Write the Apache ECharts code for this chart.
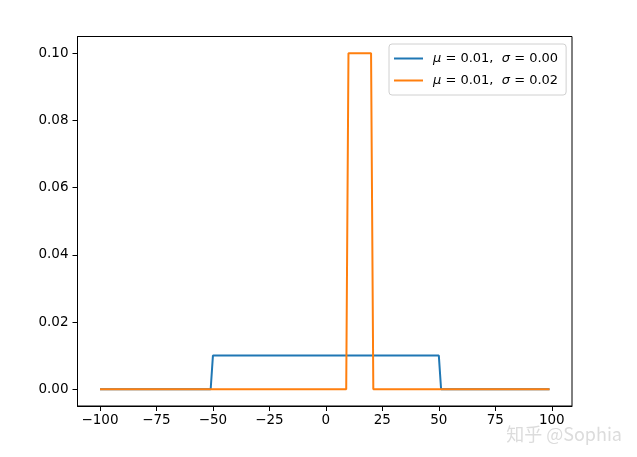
<!DOCTYPE html>
<html>
<head>
<meta charset="utf-8">
<script src="https://cdn.jsdelivr.net/npm/echarts@6/dist/echarts.min.js"></script>
<style>html,body{margin:0;padding:0;background:#fff;}#c{width:637px;height:457px;}</style>
</head>
<body>
<div id="c"></div>
<script>
// Vertices of each curve (piecewise linear)
const blueX = [-100, -51, -50, 50, 51, 99];
const blueY = [0, 0, 0.01, 0.01, 0, 0];
const orangeX = [-100, 9, 10, 20, 21, 99];
const orangeY = [0, 0, 0.1, 0.1, 0, 0];
const xTicks = [-100, -75, -50, -25, 0, 25, 50, 75, 100];
const yTicks = [0, 0.02, 0.04, 0.06, 0.08, 0.10];
const seriesNames = ['blue', 'orange'];
const legendLabels = ['{i|μ} = 0.01,  {i|σ} = 0.00', '{i|μ} = 0.01,  {i|σ} = 0.02'];

const font = 'DejaVu Sans';
const chart = echarts.init(document.getElementById('c'));
const pair = (xs, ys) => xs.map((x, i) => [x, ys[i]]);
chart.setOption({
  animation: false,
  backgroundColor: '#fff',
  grid: { left: 77.5, right: 65, top: 36.5, bottom: 51, show: true, borderColor: '#000', borderWidth: 1, containLabel: false },
  xAxis: {
    type: 'value', min: -109.95, max: 108.95,
    splitLine: { show: false },
    axisLine: { show: true, onZero: false, lineStyle: { color: '#000', width: 1 } },
    axisTick: { show: true, length: 5, lineStyle: { color: '#000' }, customValues: xTicks },
    axisLabel: { customValues: xTicks, color: '#000', fontFamily: font, fontSize: 13.5, margin: 7,
      formatter: v => String(v).replace('-', '\u2212') }
  },
  yAxis: {
    type: 'value', min: -0.005, max: 0.105,
    splitLine: { show: false },
    axisLine: { show: true, onZero: false, lineStyle: { color: '#000', width: 1 } },
    axisTick: { show: true, length: 5, lineStyle: { color: '#000' }, customValues: yTicks },
    axisLabel: { customValues: yTicks, color: '#000', fontFamily: font, fontSize: 13.5, margin: 9,
      formatter: v => v.toFixed(2) }
  },
  legend: {
    orient: 'vertical', left: 389, top: 44,
    itemWidth: 29, itemHeight: 14, itemGap: 9,
    padding: [8, 8, 8, 4],
    backgroundColor: 'rgba(255,255,255,0.8)', borderColor: '#d0d0d0', borderWidth: 1, borderRadius: 3,
    itemStyle: { opacity: 0 },
    data: seriesNames,
    formatter: name => legendLabels[seriesNames.indexOf(name)],
    textStyle: { color: '#000', fontFamily: font, fontSize: 13, padding: [0, 0, 0, 5],
      rich: { i: { fontStyle: 'italic', fontFamily: font, fontSize: 13, color: '#000' } } }
  },
  series: [
    { name: 'blue', type: 'line', data: pair(blueX, blueY), symbol: 'none', color: '#1f77b4', lineStyle: { width: 2, color: '#1f77b4' } },
    { name: 'orange', type: 'line', data: pair(orangeX, orangeY), symbol: 'none', color: '#ff7f0e', lineStyle: { width: 2, color: '#ff7f0e' } }
  ],
  graphic: [{
    type: 'text', right: 15, bottom: 14,
    style: { text: '知乎 @Sophia', fill: '#dcdcdc', font: '18px "Noto Sans CJK SC", sans-serif' }
  }]
});
</script>
</body>
</html>
